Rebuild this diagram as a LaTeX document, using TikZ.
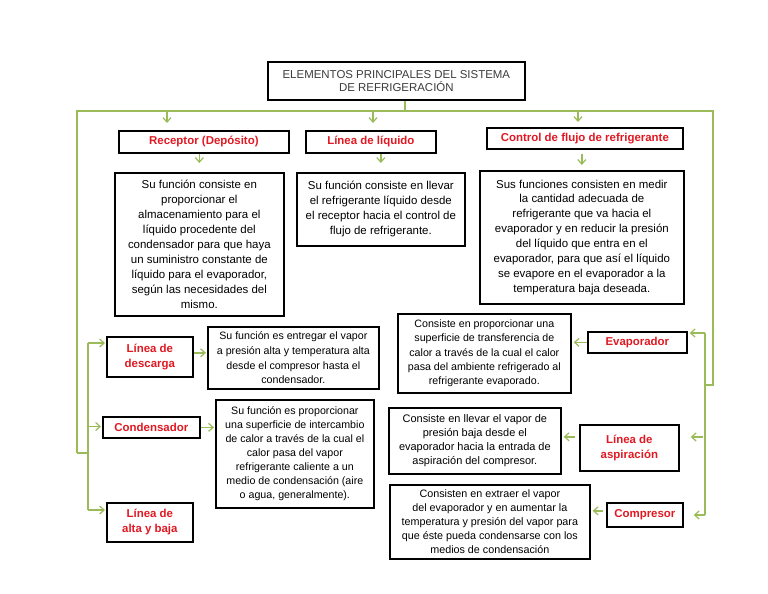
\documentclass[tikz,border=0pt]{standalone}
\usepackage{fontspec}
\setmainfont{Liberation Sans}
\usetikzlibrary{arrows.meta}
\definecolor{lgreen}{RGB}{155,187,89}
\definecolor{lred}{RGB}{225,25,35}
\definecolor{tgray}{RGB}{60,60,60}
\tikzset{
  box/.style={draw=black, line width=1.7bp, inner sep=0pt, align=center, anchor=north west},
  hdr/.style={box, text=lred, font=\bfseries\fontsize{11.5}{15}\selectfont},
  descbox/.style={box, font=\fontsize{11.5}{15}\selectfont},
  smalldesc/.style={box, font=\fontsize{10.7}{14.3}\selectfont},
  conn/.style={draw=lgreen, line width=1.3bp},
  arr/.style={conn, -{Straight Barb[length=4.5bp,width=8bp,line width=1.2bp]}},
}
\begin{document}
\begin{tikzpicture}[x=1bp,y=-1bp]
\fill[white] (0,0) rectangle (768,594);
\useasboundingbox (0,0) rectangle (768,594);

% title
\node[box, text=tgray, font=\fontsize{11.5}{13.3}\selectfont, minimum width=257bp, minimum height=38bp] (title) at (267,61)
  {ELEMENTOS PRINCIPALES DEL SISTEMA\\DE REFRIGERACIÓN};

% headers
\node[hdr, minimum width=170bp, minimum height=22bp] (rec) at (118,130) {Receptor (Depósito)};
\node[hdr, minimum width=130bp, minimum height=22bp] (liq) at (305,130) {Línea de líquido};
\node[hdr, minimum width=196bp, minimum height=21bp] (ctl) at (486,127) {Control de flujo de refrigerante};

% top descriptions
\node[descbox, minimum width=169bp, minimum height=143bp] (recd) at (114,172)
  {Su función consiste en\\proporcionar el\\almacenamiento para el\\líquido procedente del\\condensador para que haya\\un suministro constante de\\líquido para el evaporador,\\según las necesidades del\\mismo.};
\node[descbox, minimum width=168bp, minimum height=73bp] (liqd) at (296,172)
  {Su función consiste en llevar\\el refrigerante líquido desde\\el receptor hacia el control de\\flujo de refrigerante.};
\node[descbox, minimum width=204bp, minimum height=133bp] (ctld) at (479,170)
  {Sus funciones consisten en medir\\la cantidad adecuada de\\refrigerante que va hacia el\\evaporador y en reducir la presión\\del líquido que entra en el\\evaporador, para que así el líquido\\se evapore en el evaporador a la\\temperatura baja deseada.};

% left column
\node[hdr, minimum width=86bp, minimum height=40bp] (desc) at (106,336) {Línea de\\descarga};
\node[smalldesc, font=\fontsize{10.7}{14.8}\selectfont, minimum width=171bp, minimum height=62bp] (descd) at (207,326)
  {Su función es entregar el vapor\\a presión alta y temperatura alta\\desde el compresor hasta el\\condensador.};
\node[hdr, minimum width=97bp, minimum height=21bp] (cond) at (102,416) {Condensador};
\node[smalldesc, font=\fontsize{10.7}{14}\selectfont, minimum width=158bp, minimum height=108bp] (condd) at (215,399)
  {Su función es proporcionar\\una superficie de intercambio\\de calor a través de la cual el\\calor pasa del vapor\\refrigerante caliente a un\\medio de condensación (aire\\o agua, generalmente).};
\node[hdr, minimum width=86bp, minimum height=39bp] (alta) at (106,502) {Línea de\\alta y baja};

% right column
\node[hdr, minimum width=99bp, minimum height=21bp] (evap) at (587,331) {Evaporador};
\node[smalldesc, minimum width=173bp, minimum height=79bp] (evapd) at (397,313)
  {Consiste en proporcionar una\\superficie de transferencia de\\calor a través de la cual el calor\\pasa del ambiente refrigerado al\\refrigerante evaporado.};
\node[hdr, minimum width=99bp, minimum height=46bp] (asp) at (579,424) {Línea de\\aspiración};
\node[smalldesc, font=\fontsize{11}{14}\selectfont, minimum width=172bp, minimum height=66bp] (aspd) at (388,407)
  {Consiste en llevar el vapor de\\presión baja desde el\\evaporador hacia la entrada de\\aspiración del compresor.};
\node[hdr, minimum width=76bp, minimum height=24bp] (comp) at (606,502) {Compresor};
\node[smalldesc, font=\fontsize{10.8}{14}\selectfont, minimum width=200bp, minimum height=74bp] (compd) at (389,484)
  {Consisten en extraer el vapor\\del evaporador y en aumentar la\\temperatura y presión del vapor para\\que éste pueda condensarse con los\\medios de condensación};

% connector coordinates
\coordinate (tj) at (405,111);
\coordinate (tl) at (77,111);
\coordinate (tr) at (713,111);
\coordinate (a1) at (167,111);
\coordinate (a2) at (373,111);
\coordinate (a3) at (578,111);
\coordinate (lj) at (77,453);
\coordinate (lk) at (88,453);
\coordinate (l1) at (88,343);
\coordinate (l2) at (88,426.5);
\coordinate (l3) at (88,510);
\coordinate (rj) at (713,385);
\coordinate (rk) at (705,385);
\coordinate (r1) at (705,333);
\coordinate (r2) at (705,437);
\coordinate (r3) at (705,515);

% trunk
\draw[conn] (tj |- title.south) -- (tj);
\draw[conn] (lj) -- (tl) -- (tr) -- (rj) -- (rk);
\draw[conn] (lj) -- (lk);
\draw[conn] (l1) -- (l3);
\draw[conn] (r1) -- (r3);

% top arrows
\draw[arr, shorten >=7bp] (a1) -- (a1 |- rec.north);
\draw[arr, shorten >=7bp] (a2) -- (a2 |- liq.north);
\draw[arr, shorten >=5bp] (a3) -- (a3 |- ctl.north);

% header -> description
\draw[arr, shorten >=9bp] (rec.south -| recd.north) -- (recd.north);
\draw[arr, shorten >=9bp] (liq.south -| liqd.north) -- (liqd.north);
\draw[arr, shorten <=4bp, shorten >=5bp] (ctl.south -| ctld.north) -- (ctld.north);

% left branches
\draw[arr, shorten >=1bp] (l1) -- (l1 -| desc.west);
\draw[arr, shorten >=1bp] (l2) -- (l2 -| cond.west);
\draw[arr, shorten >=1bp] (l3) -- (l3 -| alta.west);
\draw[arr, shorten >=1bp] ([yshift=4bp]desc.east) -- ([yshift=4bp]desc.east -| descd.west);
\draw[arr, shorten >=1bp] (cond.east) -- (cond.east -| condd.west);

% right branches
\draw[arr, shorten >=2bp] (r1) -- (r1 -| evap.east);
\draw[arr, shorten <=2bp, shorten >=11bp] (r2) -- (r2 -| asp.east);
\draw[arr, shorten >=10bp] (r3) -- (r3 -| comp.east);
\draw[arr, shorten >=2bp] (evap.west) -- (evap.west -| evapd.east);
\draw[arr, shorten <=4bp, shorten >=2bp] ([yshift=11bp]asp.west) -- ([yshift=11bp]asp.west -| aspd.east);
\draw[arr, shorten <=3bp, shorten >=2bp] ([yshift=4bp]comp.west) -- ([yshift=4bp]comp.west -| compd.east);
\end{tikzpicture}
\end{document}
